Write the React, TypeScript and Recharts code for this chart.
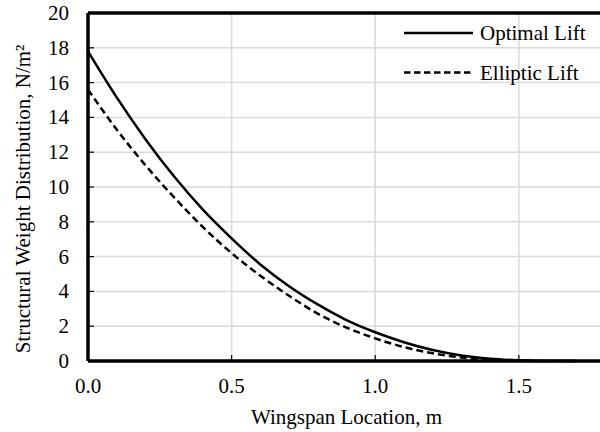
import {
  CartesianGrid,
  Line,
  LineChart,
  ReferenceLine,
  XAxis,
  YAxis,
} from "recharts";

// wingspan stations (m)
const spanLocation = [
  0, 0.1, 0.2, 0.3, 0.4, 0.5, 0.6, 0.7, 0.8, 0.9, 1.0, 1.1, 1.2, 1.3, 1.4, 1.5,
  1.6, 1.7,
];

const optimalLift = [
  17.8, 15.15, 12.75, 10.6, 8.7, 7.05, 5.55, 4.3, 3.25, 2.35, 1.65, 1.08, 0.63,
  0.32, 0.13, 0.04, 0.0, 0.0,
];

const ellipticLift = [
  15.6, 13.3, 11.25, 9.4, 7.7, 6.2, 4.9, 3.75, 2.72, 1.92, 1.3, 0.8, 0.44, 0.2,
  0.06, 0.01, 0.0, 0.0,
];

const xTicks = [0, 0.5, 1.0, 1.5];
const yTicks = [0, 2, 4, 6, 8, 10, 12, 14, 16, 18, 20];

const seriesNames = ["Optimal Lift", "Elliptic Lift"];
const yTitle = "Structural Weight Distribution, N/m²";
const xTitle = "Wingspan Location, m";

const FONT = '"Liberation Serif", "Times New Roman", serif';
const FONT_SIZE = 21;

const chartData = spanLocation.map((x, i) => ({
  x,
  optimal: optimalLift[i],
  elliptic: ellipticLift[i],
}));

interface TickProps {
  x?: number;
  y?: number;
  payload?: { value: number };
}

function XTick({ x = 0, y = 0, payload }: TickProps) {
  return (
    <g>
      <line x1={x} y1={y} x2={x} y2={y - 6} stroke="#000" strokeWidth={1.2} />
      <text
        x={x}
        y={y + 32}
        textAnchor="middle"
        fontFamily={FONT}
        fontSize={FONT_SIZE}
        fill="#000"
      >
        {payload ? payload.value.toFixed(1) : ""}
      </text>
    </g>
  );
}

function YTick({ x = 0, y = 0, payload }: TickProps) {
  return (
    <g>
      <line x1={x} y1={y} x2={x + 6} y2={y} stroke="#000" strokeWidth={1.2} />
      <text
        x={x - 19}
        y={y}
        textAnchor="end"
        dominantBaseline="central"
        fontFamily={FONT}
        fontSize={FONT_SIZE}
        fill="#000"
      >
        {payload ? payload.value : ""}
      </text>
    </g>
  );
}

interface TitleProps {
  viewBox?: { x: number; y: number; width: number; height: number };
}

// Excel sits the title a little below the plot's middle
function YTitle({ viewBox }: TitleProps) {
  if (!viewBox) return null;
  const cx = viewBox.x + 23;
  const cy = viewBox.y + viewBox.height / 2 + 12;
  return (
    <text
      x={cx}
      y={cy}
      transform={`rotate(-90 ${cx} ${cy})`}
      textAnchor="middle"
      dominantBaseline="central"
      fontFamily={FONT}
      fontSize={FONT_SIZE}
      fill="#000"
    >
      {yTitle}
    </text>
  );
}

// drawn over the plot like the original, lines pass under it
function LiftLegend() {
  return (
    <svg
      width={200}
      height={70}
      style={{ position: "absolute", left: 404, top: 20, display: "block" }}
    >
      <line x1={0} y1={13} x2={69} y2={13} stroke="#000" strokeWidth={2.5} />
      <text
        x={76}
        y={13}
        dominantBaseline="central"
        fontFamily={FONT}
        fontSize={FONT_SIZE}
        fill="#000"
      >
        {seriesNames[0]}
      </text>
      <line
        x1={0}
        y1={52.5}
        x2={69}
        y2={52.5}
        stroke="#000"
        strokeWidth={2.5}
        strokeDasharray="6.5 3.5"
      />
      <text
        x={76}
        y={52.5}
        dominantBaseline="central"
        fontFamily={FONT}
        fontSize={FONT_SIZE}
        fill="#000"
      >
        {seriesNames[1]}
      </text>
    </svg>
  );
}

export default function App() {
  return (
    <div
      style={{
        position: "absolute",
        left: 0,
        top: 0,
        width: 600,
        height: 432,
        overflow: "hidden",
        background: "#fff",
      }}
    >
      <LineChart
        width={610}
        height={432}
        data={chartData}
        margin={{ top: 13, right: 5, left: 0, bottom: 0 }}
      >
        <CartesianGrid stroke="#d9d9d9" strokeWidth={1.5} />

        <XAxis
          dataKey="x"
          type="number"
          domain={[0, 1.8]}
          ticks={xTicks}
          height={71}
          tickSize={0}
          tickMargin={0}
          tickLine={false}
          tick={<XTick />}
          axisLine={{ stroke: "#000", strokeWidth: 3.5 }}
          label={{
            value: xTitle,
            position: "insideBottom",
            offset: 8,
            style: { fontFamily: FONT, fontSize: FONT_SIZE, fill: "#000" },
          }}
        />

        <YAxis
          type="number"
          domain={[0, 20]}
          ticks={yTicks}
          width={88}
          tickSize={0}
          tickMargin={0}
          tickLine={false}
          tick={<YTick />}
          axisLine={{ stroke: "#000", strokeWidth: 3.5 }}
          label={<YTitle />}
        />

        <ReferenceLine y={20} stroke="#000" strokeWidth={3.5} />

        <Line
          dataKey="optimal"
          name={seriesNames[0]}
          type="monotone"
          stroke="#000"
          strokeWidth={2.5}
          dot={false}
          isAnimationActive={false}
        />
        <Line
          dataKey="elliptic"
          name={seriesNames[1]}
          type="monotone"
          stroke="#000"
          strokeWidth={2.5}
          strokeDasharray="7 4"
          dot={false}
          isAnimationActive={false}
        />
      </LineChart>
      <LiftLegend />
    </div>
  );
}
